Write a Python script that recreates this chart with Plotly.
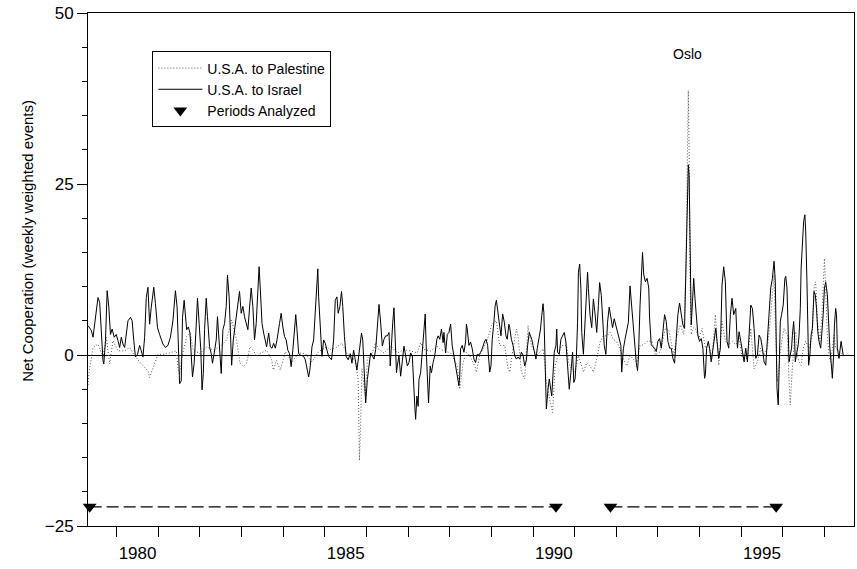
import plotly.graph_objects as go

# ---- data (decimal years, net cooperation) ----
israel_x = [1979.31,1979.39,1979.43,1979.47,1979.55,1979.59,1979.63,1979.67,1979.69,1979.73,1979.77,1979.81,1979.85,1979.89,1979.94,1979.99,
1980.03,1980.07,1980.11,1980.15,1980.19,1980.23,1980.27,1980.33,1980.37,1980.41,1980.45,1980.50,1980.55,1980.59,1980.63,1980.67,1980.71,1980.75,1980.79,1980.83,1980.89,1980.93,1980.98,
1981.03,1981.11,1981.17,1981.23,1981.29,1981.35,1981.41,1981.45,1981.49,1981.51,1981.55,1981.58,1981.62,1981.68,1981.72,1981.76,1981.82,1981.86,1981.90,1981.94,1981.98,
1982.02,1982.05,1982.08,1982.11,1982.15,1982.18,1982.23,1982.27,1982.30,1982.34,1982.39,1982.42,1982.45,1982.48,1982.51,1982.55,1982.59,1982.63,1982.66,1982.70,1982.73,1982.76,1982.80,1982.84,1982.90,1982.95,1982.99,
1983.03,1983.07,1983.11,1983.15,1983.20,1983.23,1983.27,1983.31,1983.35,1983.39,1983.42,1983.45,1983.49,1983.53,1983.57,1983.60,1983.65,1983.69,1983.73,1983.77,1983.81,1983.85,1983.91,1983.95,1983.99,
1984.03,1984.07,1984.11,1984.15,1984.19,1984.23,1984.27,1984.30,1984.33,1984.37,1984.41,1984.49,1984.53,1984.57,1984.61,1984.64,1984.69,1984.73,1984.77,1984.80,1984.83,1984.85,1984.89,1984.93,1984.97,
1985.01,1985.05,1985.09,1985.16,1985.21,1985.25,1985.29,1985.32,1985.36,1985.40,1985.43,1985.47,1985.51,1985.56,1985.61,1985.65,1985.69,1985.73,1985.77,1985.83,1985.88,1985.91,1985.95,1985.98,
1986.02,1986.06,1986.10,1986.14,1986.18,1986.22,1986.26,1986.30,1986.34,1986.38,1986.42,1986.46,1986.50,1986.54,1986.57,1986.60,1986.63,1986.66,1986.69,1986.72,1986.74,1986.78,1986.82,1986.86,1986.90,1986.94,1986.98,
1987.02,1987.06,1987.10,1987.13,1987.16,1987.18,1987.21,1987.24,1987.26,1987.30,1987.34,1987.38,1987.41,1987.44,1987.46,1987.49,1987.53,1987.56,1987.60,1987.64,1987.69,1987.72,1987.76,1987.80,1987.84,1987.86,1987.90,1987.94,1987.98,
1988.02,1988.06,1988.10,1988.14,1988.18,1988.22,1988.24,1988.26,1988.30,1988.34,1988.38,1988.40,1988.42,1988.46,1988.50,1988.54,1988.58,1988.62,1988.66,1988.70,1988.74,1988.78,1988.83,1988.87,1988.91,1988.94,1988.96,1988.99,
1989.02,1989.06,1989.09,1989.12,1989.15,1989.19,1989.23,1989.27,1989.31,1989.35,1989.38,1989.42,1989.44,1989.48,1989.52,1989.56,1989.60,1989.64,1989.68,1989.72,1989.76,1989.80,1989.84,1989.87,1989.91,1989.94,1989.97,
1990.00,1990.04,1990.07,1990.10,1990.14,1990.18,1990.21,1990.24,1990.26,1990.28,1990.31,1990.32,1990.36,1990.39,1990.45,1990.47,1990.51,1990.55,1990.57,1990.59,1990.63,1990.67,1990.71,1990.75,1990.79,1990.83,1990.87,1990.91,1990.95,1990.98,
1991.01,1991.04,1991.07,1991.09,1991.12,1991.15,1991.17,1991.21,1991.25,1991.28,1991.31,1991.33,1991.37,1991.41,1991.45,1991.49,1991.53,1991.57,1991.60,1991.64,1991.67,1991.71,1991.75,1991.79,1991.83,1991.87,1991.91,1991.95,1991.99,
1992.03,1992.07,1992.11,1992.13,1992.17,1992.21,1992.25,1992.29,1992.33,1992.37,1992.41,1992.45,1992.48,1992.51,1992.53,1992.57,1992.61,1992.63,1992.66,1992.70,1992.74,1992.78,1992.80,1992.84,1992.88,1992.92,1992.96,
1993.00,1993.04,1993.08,1993.12,1993.16,1993.20,1993.24,1993.28,1993.32,1993.36,1993.40,1993.44,1993.48,1993.52,1993.56,1993.60,1993.64,1993.67,1993.70,1993.73,1993.75,1993.77,1993.80,1993.83,1993.86,1993.89,1993.93,1993.96,
1994.00,1994.04,1994.08,1994.12,1994.14,1994.17,1994.21,1994.24,1994.28,1994.32,1994.36,1994.39,1994.42,1994.46,1994.50,1994.54,1994.58,1994.62,1994.66,1994.70,1994.74,1994.78,1994.82,1994.87,1994.91,1994.95,1994.99,
1995.03,1995.07,1995.11,1995.15,1995.19,1995.23,1995.27,1995.31,1995.35,1995.39,1995.43,1995.47,1995.51,1995.55,1995.59,1995.63,1995.67,1995.71,1995.75,1995.79,1995.82,1995.84,1995.86,1995.89,1995.91,1995.94,1995.97,
1996.01,1996.05,1996.07,1996.10,1996.13,1996.15,1996.18,1996.21,1996.23,1996.26,1996.28,1996.30,1996.34,1996.37,1996.39,1996.42,1996.44,1996.47,1996.50,1996.53,1996.55,1996.58,1996.60,1996.62,1996.65,1996.68,1996.71,1996.75,1996.78,1996.81,1996.84,1996.87,1996.91,1996.94,1996.97,
1997.00,1997.03,1997.07,1997.10,1997.13,1997.16,1997.19,1997.22,1997.24,1997.27,1997.29,1997.31,1997.35,1997.40,1997.45]

israel_y = [4.3,3.6,2.6,4.5,8.4,7.7,3.0,-0.8,-1.3,2.1,9.4,7.0,3.0,3.8,2.6,3.0,
2.1,1.1,2.6,1.6,1.1,3.0,5.0,5.5,5.0,2.1,-0.3,0.1,1.4,0.6,-0.3,2.6,8.4,9.9,4.5,7.0,9.9,7.5,4.0,
3.0,1.6,1.1,1.4,2.6,5.0,9.4,7.0,-0.3,-4.2,-3.8,5.5,8.0,3.7,4.1,3.2,-3.2,-1.2,3.2,8.3,4.6,
0.7,-5.1,-2.7,3.7,8.3,5.6,1.2,0.2,-1.2,0.2,2.2,5.6,2.2,0.7,-2.7,3.7,4.6,7.1,11.7,8.5,2.7,-1.5,2.2,4.1,6.6,9.3,6.1,
7.1,5.6,4.6,3.7,7.6,9.8,7.1,2.2,4.6,9.0,12.9,9.5,4.6,3.2,2.2,1.2,3.2,1.2,1.0,1.7,1.0,2.2,4.6,6.1,4.1,
2.7,2.2,0.7,0.2,-1.7,0.7,3.7,5.9,3.7,0.2,0.0,-0.2,-0.7,-2.0,-3.2,-2.2,1.2,2.2,7.1,10.0,12.6,8.5,3.2,-0.2,2.2,
1.7,0.7,-0.2,-0.7,2.2,8.0,8.5,6.1,7.1,9.3,7.1,2.7,-0.2,-0.7,0.2,-1.2,0.7,-0.7,-2.2,0.7,3.2,2.2,-3.7,-7.0,
-3.6,-1.1,0.3,-0.1,-0.6,0.8,3.8,7.4,4.7,1.3,2.3,2.8,2.8,3.3,-1.6,2.3,4.7,6.9,2.3,-2.6,-1.6,-0.1,-3.1,-0.6,1.3,-0.1,-1.6,
-1.1,0.3,-0.1,-5.0,-7.5,-9.4,-6.0,-7.5,-3.6,-2.6,0.3,4.2,6.0,-0.1,-4.0,-7.0,-1.6,-2.6,-1.1,-0.1,2.3,2.8,2.3,3.8,1.8,3.3,0.3,3.0,3.3,
4.5,1.3,-0.1,-1.6,-2.6,-4.5,-3.0,0.9,1.4,0.4,1.9,4.5,3.8,1.4,1.9,0.9,-0.6,-1.1,0.1,0.0,0.4,0.9,1.9,2.3,1.4,-1.1,-2.5,-1.6,
2.3,4.8,7.2,8.0,6.7,4.3,2.8,6.0,4.8,2.8,2.3,4.5,4.0,2.3,1.4,-0.1,-0.6,-0.3,-0.6,0.4,0.0,-1.6,-0.8,1.4,3.3,2.8,2.3,
1.4,-0.1,-0.6,0.9,2.3,3.8,5.8,7.5,6.2,0.4,-5.0,-7.9,-5.0,-3.5,-6.0,-3.5,0.4,1.4,3.8,0.4,0.1,2.3,2.8,3.3,1.9,-1.1,-5.0,-2.5,0.4,-4.0,
-3.5,-0.6,4.8,12.1,13.3,9.7,3.3,0.1,4.8,9.7,12.1,9.7,5.8,4.0,8.2,6.0,3.3,7.2,10.6,8.7,4.8,1.4,0.1,4.8,7.0,5.3,4.0,5.3,4.3,
3.3,2.3,1.4,-2.5,0.9,2.3,3.8,4.8,10.1,7.2,3.3,0.1,-1.1,-2.3,-0.6,7.2,14.0,15.0,11.7,10.7,11.2,9.8,5.4,1.5,1.2,1.0,0.5,
2.0,2.4,1.0,3.4,5.9,4.9,2.0,1.0,1.0,-0.5,-1.2,2.4,5.9,7.6,5.9,4.4,3.9,11.7,18.0,27.8,26.3,15.6,4.4,7.8,11.2,8.3,4.9,2.9,
2.0,2.4,1.0,-3.4,-2.9,1.0,2.0,1.0,-1.0,1.0,2.4,3.9,2.0,-0.5,1.0,10.2,12.9,10.7,2.0,1.0,5.9,8.3,5.9,6.8,1.0,3.4,2.0,
0.5,-1.0,1.0,-1.0,2.9,7.3,6.8,3.9,-0.5,0.0,2.9,2.4,1.0,-1.0,-1.5,2.9,5.9,9.8,11.2,13.7,10.7,-1.5,-4.9,-7.3,0.0,4.9,5.9,
7.3,11.2,11.5,9.8,1.0,-1.0,0.0,1.0,2.9,4.9,2.9,-1.0,0.5,1.5,2.9,6.8,12.7,15.6,19.5,20.5,18.0,10.7,1.0,-1.5,0.0,2.9,3.9,9.3,8.8,6.8,3.4,2.0,1.0,2.9,5.9,
9.8,10.7,8.8,3.9,1.0,-1.0,-3.4,0.0,4.4,6.8,5.9,1.0,-0.5,2.0,0.0]

palestine_x = [1979.31,1979.33,1979.43,1979.55,1979.67,1979.75,1979.83,1979.91,1980.03,1980.19,1980.31,1980.43,1980.59,1980.75,1980.79,1980.87,1980.99,
1981.15,1981.31,1981.43,1981.47,1981.51,1981.55,1981.68,1981.76,1981.84,1982.00,1982.16,1982.32,1982.48,1982.64,1982.76,1982.88,1982.96,
1983.04,1983.12,1983.20,1983.28,1983.36,1983.44,1983.60,1983.72,1983.76,1983.84,1983.93,1984.05,1984.21,1984.37,1984.53,1984.69,1984.85,
1985.05,1985.13,1985.25,1985.41,1985.53,1985.65,1985.73,1985.80,1985.83,1985.86,1985.89,1985.97,1986.02,1986.06,1986.14,1986.22,1986.30,1986.42,1986.58,1986.74,1986.90,
1987.06,1987.22,1987.30,1987.38,1987.54,1987.70,1987.78,1988.02,1988.10,1988.18,1988.24,1988.32,1988.40,1988.48,1988.60,1988.64,1988.72,1988.80,1988.88,1988.96,
1989.00,1989.06,1989.12,1989.20,1989.32,1989.40,1989.44,1989.52,1989.60,1989.64,1989.72,1989.80,1989.88,1989.96,1990.08,1990.16,1990.24,1990.28,1990.32,1990.40,1990.47,1990.53,1990.61,1990.69,1990.81,1990.85,1990.93,
1991.01,1991.09,1991.17,1991.21,1991.29,1991.37,1991.45,1991.53,1991.61,1991.69,1991.77,1991.85,1991.93,1992.01,1992.09,1992.17,1992.25,1992.33,1992.41,1992.49,1992.57,1992.66,1992.74,1992.86,1992.94,
1993.06,1993.18,1993.26,1993.38,1993.46,1993.54,1993.62,1993.67,1993.70,1993.73,1993.75,1993.77,1993.80,1993.86,1993.90,1993.98,1994.06,1994.14,1994.22,1994.30,1994.38,1994.46,1994.54,1994.62,1994.70,1994.78,1994.87,1994.95,
1995.03,1995.15,1995.23,1995.31,1995.39,1995.47,1995.55,1995.63,1995.71,1995.79,1995.83,1995.87,1995.91,1995.95,1996.03,1996.11,1996.15,1996.18,1996.21,1996.25,1996.28,1996.31,1996.35,1996.39,1996.44,1996.49,1996.55,1996.63,1996.71,1996.75,1996.79,1996.83,1996.89,1996.94,1996.97,
1997.00,1997.03,1997.07,1997.11,1997.15,1997.19,1997.23,1997.27,1997.35,1997.45]

palestine_y = [-4.4,-2.8,1.1,1.6,-0.3,2.6,-1.3,2.1,0.6,0.6,1.1,-0.1,-1.3,-2.3,-3.3,-1.8,0.1,
0.1,0.4,0.6,-1.8,-2.8,-0.8,2.7,3.2,0.7,0.2,1.2,0.7,1.2,2.2,5.1,2.2,-1.2,
-1.7,-1.2,1.2,0.7,-0.2,0.2,0.7,-0.7,-2.2,-0.8,-2.2,0.5,-1.0,0.3,0.2,-1.0,0.5,
1.2,0.8,1.0,1.7,0.2,-0.5,-0.7,-3.7,-15.4,-10.0,-2.0,-6.0,-0.6,-0.1,0.3,1.8,0.8,0.3,1.3,0.3,0.8,
0.6,0.3,1.8,0.8,0.6,1.3,0.8,0.3,-0.6,-1.6,-5.0,-1.1,0.4,-0.1,-1.6,-2.5,-0.1,0.9,1.9,3.3,
4.3,4.8,5.0,1.4,1.4,-2.0,-2.5,0.9,3.8,2.8,-2.5,-3.5,4.3,1.4,-0.1,0.4,0.9,-1.1,-4.0,-6.4,-8.4,-1.6,0.2,1.4,1.4,-1.1,-2.0,
-2.5,-0.1,-1.6,-2.5,-1.1,-1.6,-2.5,-0.6,1.9,2.8,2.8,3.3,2.3,1.9,0.9,-0.6,-1.6,-0.1,-0.6,-1.1,1.4,1.5,2.0,2.0,0.0,
0.5,3.9,3.7,0.0,2.9,4.4,3.0,12.0,28.0,38.7,30.0,12.0,3.0,4.0,3.9,2.4,3.9,1.0,1.5,-0.5,5.9,-1.5,4.9,2.0,1.5,2.0,1.5,2.4,
-0.5,-0.5,3.9,-2.0,-1.0,1.0,0.0,1.0,5.9,11.7,2.9,-3.9,-2.0,1.0,3.9,2.9,-3.9,-7.3,-3.9,1.0,2.9,3.4,0.0,-1.0,-1.5,1.0,2.0,1.0,2.9,9.8,10.7,4.9,2.0,5.9,10.7,
14.1,9.8,2.9,0.0,-1.0,1.0,2.9,1.0,0.5,0.0]

periods_x = [1979.35, 1990.55, 1991.86, 1995.84]
periods_y = [-22.2, -22.2, -22.2, -22.2]

year_ticks = list(range(1980, 1998))
label_years = [1980, 1985, 1990, 1995]

FONT = "Liberation Sans, Arial, Helvetica, sans-serif"

fig = go.Figure()
fig.add_trace(go.Scatter(x=palestine_x, y=palestine_y, mode="lines", name="U.S.A. to Palestine",
                         line=dict(color="#555555", width=1, dash="1px,2px")))
fig.add_trace(go.Scatter(x=israel_x, y=israel_y, mode="lines", name="U.S.A. to Israel",
                         line=dict(color="black", width=1)))
# dashed connectors between period markers
seg_x = [periods_x[0], periods_x[1], None, periods_x[2], periods_x[3]]
seg_y = [periods_y[0], periods_y[1], None, periods_y[2], periods_y[3]]
fig.add_trace(go.Scatter(x=seg_x, y=seg_y, mode="lines", showlegend=False,
                         line=dict(color="black", width=1.2, dash="12px,5px"), hoverinfo="skip"))
fig.add_trace(go.Scatter(x=periods_x, y=periods_y, mode="markers", name="Periods Analyzed",
                         marker=dict(symbol="triangle-down", size=12, color="black"), cliponaxis=False))

fig.update_layout(
    width=857, height=569,
    margin=dict(l=88, r=3, t=13, b=43),
    paper_bgcolor="white", plot_bgcolor="white",
    font=dict(family=FONT, color="black", size=14),
    showlegend=True,
    legend=dict(x=0.084, y=0.925, xanchor="left", yanchor="top",
                bordercolor="black", borderwidth=1, bgcolor="white",
                font=dict(family=FONT, size=14, color="black"),
                tracegroupgap=0, itemwidth=44),
    xaxis=dict(range=[1979.31, 1997.71], showgrid=False, zeroline=False,
               showline=True, linecolor="black", linewidth=1, mirror=True,
               tickmode="array", tickvals=[y + 0.5 for y in label_years],
               ticktext=[str(y) for y in label_years], ticks="",
               ticklabelstandoff=12,
               tickfont=dict(size=17),
               minor=dict(tickmode="array", tickvals=year_ticks, ticks="outside",
                          ticklen=10, tickcolor="black", showgrid=False)),
    yaxis=dict(range=[-25, 50], showgrid=False,
               zeroline=True, zerolinecolor="black", zerolinewidth=1,
               showline=True, linecolor="black", linewidth=1, mirror=True,
               tickmode="array", tickvals=[-25, 0, 25, 50], ticks="outside",
               ticklen=10, tickcolor="black", tickfont=dict(size=17),
               minor=dict(dtick=5, tick0=0, ticks="outside", ticklen=5, tickcolor="black", showgrid=False)),
)

fig.add_annotation(text="Net Cooperation (weekly weighted events)", xref="paper", yref="paper",
                   x=-0.092, y=0.556, textangle=-90, showarrow=False,
                   font=dict(family=FONT, size=15, color="black"))
fig.add_annotation(text="Oslo", xref="x", yref="y", x=1993.7, y=44, showarrow=False,
                   font=dict(family=FONT, size=14, color="black"))

fig.write_html("out.html")
